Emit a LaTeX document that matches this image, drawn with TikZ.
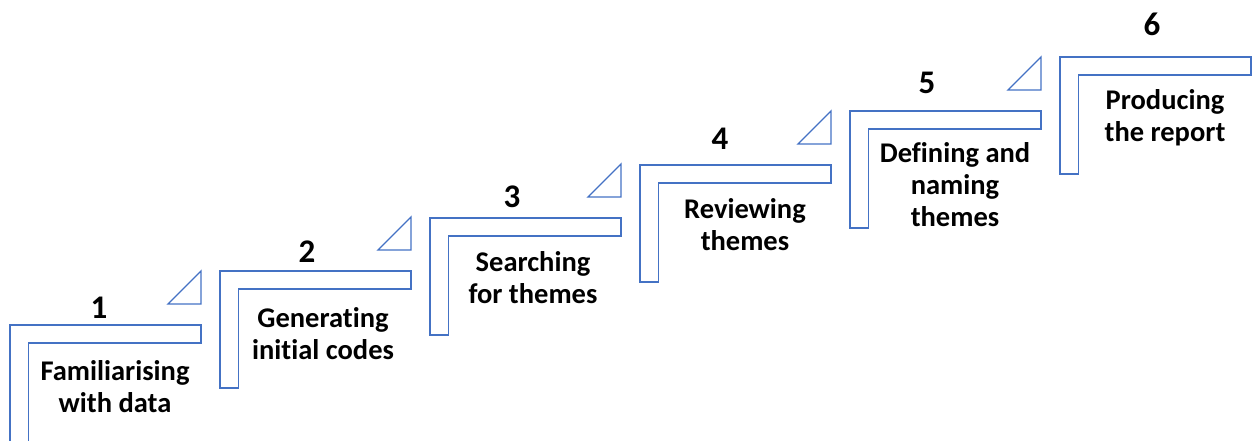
\documentclass[tikz,border=0pt]{standalone}
\usepackage{fontspec}
\setmainfont{Carlito}[Ligatures=NoCommon]
\definecolor{stepblue}{HTML}{4472C4}
\tikzset{
  stepframe/.style={draw=stepblue, line width=1.3pt, line join=miter},
  steplabel/.style={font=\bfseries\fontsize{28.5}{32}\selectfont, align=center, text=black, inner sep=0pt},
  stepnum/.style={font=\bfseries\fontsize{33}{33}\selectfont, text=black, inner sep=0pt},
}
% L-shaped stair frame: #1 = left edge, #2 = top edge (y grows downwards)
\newcommand\stairframe[2]{%
  \draw[stepframe] (#1,#2) -- (#1+191,#2) -- (#1+191,#2+18) -- (#1+18.5,#2+18)
    -- (#1+18.5,#2+117) -- (#1,#2+117) -- cycle;}
% small right triangle above the right end of a stair
\newcommand\stairmark[2]{%
  \draw[stepframe] (#1+158,#2-21) -- (#1+191,#2-21) -- (#1+191,#2-54) -- cycle;}
\begin{document}
\begin{tikzpicture}[x=1pt, y=-1pt]
  \useasboundingbox (0,0) rectangle (1258,441);
  \clip (0,0) rectangle (1258,441);

  \stairframe{10}{325}   \stairmark{10}{325}
  \stairframe{220}{271}  \stairmark{220}{271}
  \stairframe{430}{218}  \stairmark{430}{218}
  \stairframe{640}{165}  \stairmark{640}{165}
  \stairframe{850}{111}  \stairmark{850}{111}
  \stairframe{1060}{57}

  \node[stepnum] (n1) at (99,308) {1};
  \node[stepnum] (n2) at (307,252) {2};
  \node[stepnum] (n3) at (512,197) {3};
  \node[stepnum] (n4) at (720,139) {4};
  \node[stepnum] (n5) at (927,83) {5};
  \node[stepnum] (n6) at (1152,24) {6};

  \node[steplabel] (t1) at (115,387) {Familiarising\\with data};
  \node[steplabel] (t2) at (323,334) {Generating\\initial codes};
  \node[steplabel] (t3) at (533,278) {Searching\\for themes};
  \node[steplabel] (t4) at (745,225) {Reviewing\\themes};
  \node[steplabel] (t5) at (955,185) {Defining and\\naming\\themes};
  \node[steplabel] (t6) at (1165,118) {Producing\\the report};
\end{tikzpicture}
\end{document}
